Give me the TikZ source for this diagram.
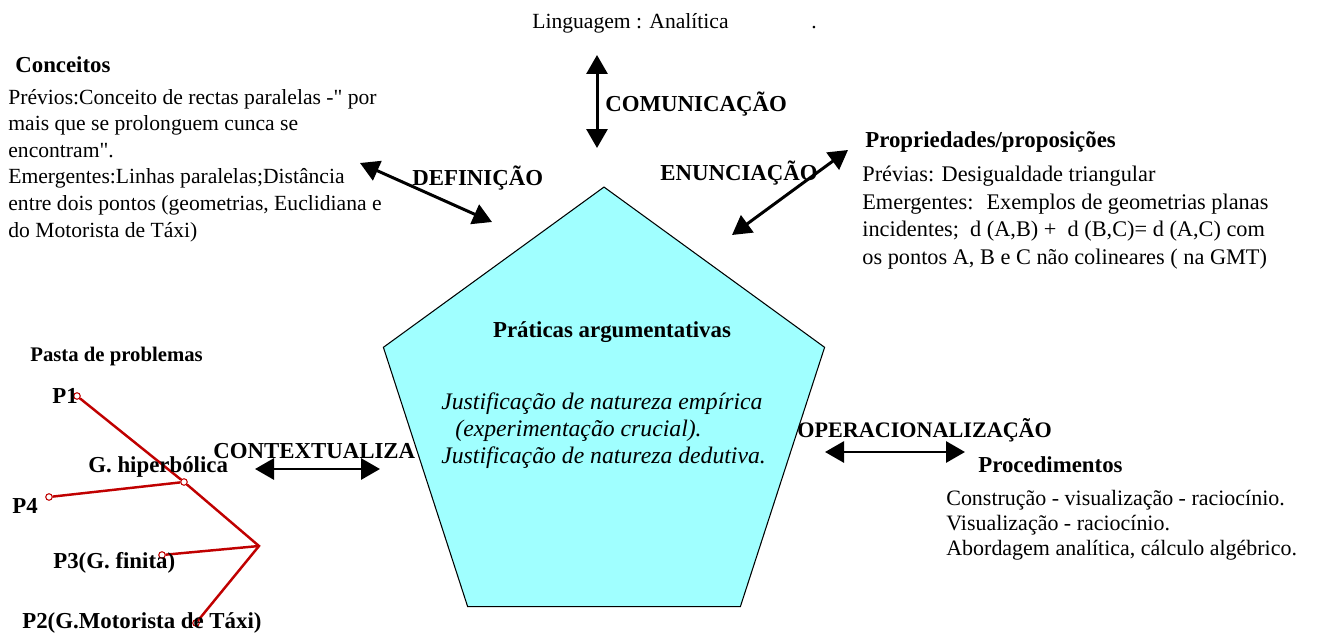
\documentclass[tikz,border=0pt]{standalone}
\usepackage{fontspec}
\setmainfont{Liberation Serif}[Ligatures=TeXOff]
\usetikzlibrary{arrows.meta,shapes.geometric}
\definecolor{pentcyan}{RGB}{160,255,255}
\definecolor{probred}{RGB}{192,0,0}

\begin{document}
\begin{tikzpicture}[x=0.02cm, y=-0.02cm,
    head/.style={font=\bfseries\fontsize{13}{15}\selectfont, inner sep=0pt, anchor=base west},
    body/.style={font=\fontsize{12.3}{15.1}\selectfont, inner sep=0pt, align=left, anchor=north west},
    duplo/.style={{Triangle[length=0.38cm,width=0.42cm]}-{Triangle[length=0.38cm,width=0.42cm]}, line width=1.7pt},
    ramo/.style={draw=probred, line width=1.4pt},
    pto/.style={circle, draw=probred, fill=white, line width=0.6pt, inner sep=0pt, minimum size=0.13cm}]
  \useasboundingbox (0,0) rectangle (1324,635);

  % pasta de problemas
  \node[pto] (p1pt) at (77,396) {};
  \node[pto] (gpt) at (184,482) {};
  \node[pto] (p4pt) at (49,497) {};
  \node[pto] (p3pt) at (162,555) {};
  \node[pto] (p2pt) at (196,623) {};
  \coordinate (jn) at (259,546);
  \draw[ramo] (p1pt) -- (gpt) -- (jn) -- (p2pt);
  \draw[ramo] (p4pt) -- (gpt);
  \draw[ramo] (p3pt) -- (jn);
  \node[head, font=\bfseries\fontsize{11.8}{14}\selectfont] (pasta) at (30,361) {Pasta de problemas};
  \node[head] (p1) at (52,403) {P1};
  \node[head] (ghip) at (88,472) {G. hiperbólica};
  \node[head] (p4) at (12,513) {P4};
  \node[head] (p3) at (53,568) {P3(G. finita)};
  \node[head] (p2) at (22,628) {P2(G.Motorista de Táxi)};

  \node[head] (ctx) at (213,458) {CONTEXTUALIZA};
  \coordinate (ctxa) at (255,469);
  \coordinate (ctxb) at (380,469);
  \draw[duplo] (ctxa) -- (ctxb);

  % pentagono central
  \node[regular polygon, regular polygon sides=5, minimum size=9.28cm, inner sep=0pt,
        draw, line width=0.6pt, fill=pentcyan] (prat) at (604,419) {};
  \node[font=\bfseries\fontsize{13}{15}\selectfont, inner sep=0pt, anchor=base] (pratt) at (612,337) {Práticas argumentativas};
  \node[body, font=\itshape\fontsize{13.5}{15.4}\selectfont] (just) at (441,392)
    {Justificação de natureza empírica\\\hspace*{0.28cm}(experimentação crucial).\\Justificação de natureza dedutiva.};

  % topo
  \node[font=\fontsize{12.3}{14.2}\selectfont, inner sep=0pt, anchor=base west] (ling) at (532,29) {Linguagem : Analítica};
  \node[font=\fontsize{12.3}{14.2}\selectfont, inner sep=0pt, anchor=base west] (ponto) at (811,29) {.};
  \coordinate (coma) at (597,55);
  \coordinate (comb) at (597,148);
  \draw[duplo] (coma) -- (comb);
  \node[head] (com) at (605,112) {COMUNICAÇÃO};

  % conceitos
  \node[head] (conc) at (15,72) {Conceitos};
  \node[body] (concb) at (8,89) {Prévios:Conceito de rectas paralelas -" por\\mais que se prolonguem cunca se\\encontram".\\Emergentes:Linhas paralelas;Distância\\entre dois pontos (geometrias, Euclidiana e\\do Motorista de Táxi)};
  \coordinate (defa) at (360,163);
  \coordinate (defb) at (492,222);
  \draw[duplo] (defa) -- (defb);
  \node[head] (def) at (412,185) {DEFINIÇÃO};

  % propriedades
  \node[head] (prop) at (865,147) {Propriedades/proposições};
  \node[body, font=\fontsize{12.7}{15.6}\selectfont] (propb) at (862,166) {Prévias: Desigualdade triangular\\Emergentes:~ Exemplos de geometrias planas\\incidentes;~ d (A,B) +~ d (B,C)= d (A,C) com\\os pontos A, B e C não colineares ( na GMT)};
  \coordinate (enua) at (732,235);
  \coordinate (enub) at (848,150);
  \draw[duplo] (enua) -- (enub);
  \node[head] (enu) at (660,180) {ENUNCIAÇÃO};

  % procedimentos
  \node[head, font=\bfseries\fontsize{12.6}{15}\selectfont] (oper) at (797,437) {OPERACIONALIZAÇÃO};
  \coordinate (opea) at (825,452);
  \coordinate (opeb) at (965,452);
  \draw[duplo] (opea) -- (opeb);
  \node[head] (proc) at (978,472) {Procedimentos};
  \node[body, font=\fontsize{12.5}{14.2}\selectfont] (procb) at (946,490) {Construção - visualização - raciocínio.\\Visualização - raciocínio.\\Abordagem analítica, cálculo algébrico.};
\end{tikzpicture}
\end{document}
